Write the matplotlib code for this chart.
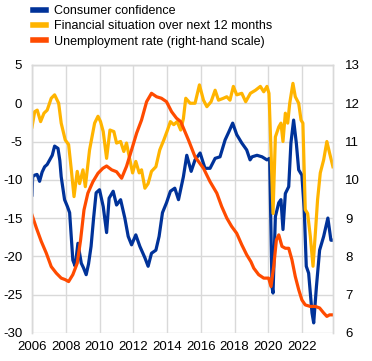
import matplotlib
matplotlib.use('Agg')
import matplotlib.pyplot as plt
from matplotlib.ticker import FuncFormatter

plt.rcParams['font.family'] = ['Liberation Sans', 'DejaVu Sans']

BLUE = '#003299'
YELLOW = '#FFB400'
ORANGE = '#FF4B00'
GRID = '#d9d9d9'

# consumer confidence (left scale)
cc_x = [2006.0, 2006.04, 2006.16, 2006.3, 2006.45, 2006.6, 2006.75, 2006.9, 2007.05, 2007.2,
        2007.34, 2007.54, 2007.65, 2007.73, 2007.93, 2008.1, 2008.23, 2008.42, 2008.56, 2008.72,
        2008.92, 2009.05, 2009.21, 2009.35, 2009.5, 2009.65, 2009.8, 2010.0, 2010.22, 2010.42,
        2010.57, 2010.81, 2011.01, 2011.25, 2011.5, 2011.7, 2011.9, 2012.15, 2012.39, 2012.69,
        2012.88, 2013.08, 2013.34, 2013.53, 2013.73, 2013.97, 2014.2, 2014.46, 2014.68, 2014.97,
        2015.17, 2015.43, 2015.66, 2015.96, 2016.25, 2016.55, 2016.85, 2017.14, 2017.44, 2017.67,
        2017.89, 2018.13, 2018.43, 2018.72, 2018.92, 2019.04, 2019.33, 2019.63, 2019.92, 2020.08,
        2020.22, 2020.28, 2020.42, 2020.62, 2020.75, 2020.87, 2021.01, 2021.21, 2021.34, 2021.5,
        2021.66, 2021.8, 2021.99, 2022.13, 2022.25, 2022.39, 2022.49, 2022.59, 2022.69, 2022.85,
        2023.04, 2023.28, 2023.53, 2023.71, 2023.83]
cc_y = [-12.0, -9.6, -9.4, -9.3, -10.2, -9.0, -8.3, -8.0, -7.4, -6.8,
        -5.6, -5.9, -7.5, -9.6, -12.6, -13.5, -14.3, -20.5, -21.3, -18.3,
        -20.9, -21.5, -22.4, -21.0, -18.7, -15.0, -11.7, -11.3, -13.5, -16.9,
        -12.4, -11.5, -13.3, -12.6, -15.0, -17.4, -18.5, -17.2, -18.7, -20.2,
        -21.3, -19.6, -19.2, -17.4, -14.3, -13.0, -11.5, -11.1, -12.6, -9.6,
        -6.8, -8.9, -7.4, -6.5, -8.5, -8.5, -7.2, -7.0, -4.8, -3.7,
        -2.6, -4.1, -5.2, -6.1, -7.4, -7.0, -6.8, -7.0, -7.4, -7.2,
        -24.0, -24.8, -14.8, -13.0, -12.6, -16.5, -11.8, -10.9, -5.2, -2.2,
        -5.2, -8.7, -9.4, -13.9, -21.3, -22.2, -24.8, -27.4, -28.7, -24.0,
        -19.2, -17.4, -15.0, -17.9, -17.9]

# financial situation over next 12 months (left scale)
fs_x = [2006.0, 2006.16, 2006.31, 2006.51, 2006.71, 2006.9, 2007.14, 2007.34, 2007.58, 2007.73,
        2007.97, 2008.17, 2008.33, 2008.49, 2008.68, 2008.82, 2009.02, 2009.16, 2009.41, 2009.71,
        2009.91, 2010.06, 2010.22, 2010.42, 2010.62, 2010.85, 2011.01, 2011.25, 2011.44, 2011.6,
        2011.8, 2011.96, 2012.15, 2012.35, 2012.49, 2012.69, 2012.88, 2013.08, 2013.34, 2013.57,
        2013.81, 2014.03, 2014.2, 2014.4, 2014.6, 2014.81, 2014.97, 2015.11, 2015.37, 2015.66,
        2015.92, 2016.16, 2016.36, 2016.61, 2016.85, 2017.05, 2017.34, 2017.54, 2017.73, 2017.93,
        2018.13, 2018.43, 2018.66, 2018.94, 2019.24, 2019.53, 2019.73, 2019.92, 2020.04, 2020.16,
        2020.28, 2020.42, 2020.62, 2020.75, 2020.87, 2021.01, 2021.15, 2021.27, 2021.46, 2021.6,
        2021.8, 2021.94, 2022.05, 2022.19, 2022.33, 2022.49, 2022.65, 2022.79, 2022.92, 2023.08,
        2023.28, 2023.47, 2023.63, 2023.83]
fs_y = [-3.1, -1.1, -0.9, -2.4, -1.3, -0.9, 0.65, 1.1, 0.0, -2.6,
        -4.8, -5.4, -8.7, -12.2, -8.9, -10.5, -8.7, -10.9, -6.1, -2.6,
        -1.7, -2.4, -3.7, -7.2, -3.5, -3.7, -5.2, -5.0, -6.3, -5.2,
        -7.4, -9.1, -7.6, -9.1, -8.7, -11.1, -10.5, -8.9, -8.3, -6.1,
        -4.8, -3.5, -2.4, -2.8, -2.4, -3.5, -2.0, 0.65, 0.0, 0.0,
        2.4, 0.4, -0.45, 0.2, 1.7, 0.4, 0.65, 0.85, 0.4, 2.2,
        1.1, 1.3, 0.2, 1.3, 1.7, 2.2, 1.5, 2.2, 1.3, -6.1,
        -14.4, -4.4, -3.1, -2.6, -5.0, -1.3, -2.6, 0.0, 2.6, 0.85,
        0.0, -2.2, -2.6, -13.9, -14.4, -17.4, -21.3, -16.9, -12.6, -9.1,
        -7.4, -5.0, -6.5, -8.3]

# unemployment rate (right scale)
ur_x = [2006.0, 2006.26, 2006.55, 2006.85, 2007.14, 2007.44, 2007.73, 2007.97, 2008.17, 2008.42,
        2008.68, 2008.88, 2009.08, 2009.31, 2009.61, 2009.91, 2010.2, 2010.42, 2010.72, 2011.01,
        2011.31, 2011.6, 2011.9, 2012.2, 2012.49, 2012.79, 2013.08, 2013.38, 2013.67, 2013.97,
        2014.27, 2014.56, 2014.81, 2015.27, 2015.66, 2016.16, 2016.55, 2016.95, 2017.24, 2017.54,
        2017.83, 2018.13, 2018.43, 2018.72, 2018.97, 2019.14, 2019.43, 2019.73, 2020.02, 2020.16,
        2020.32, 2020.48, 2020.62, 2020.81, 2021.01, 2021.21, 2021.4, 2021.6, 2021.8, 2021.99,
        2022.19, 2022.49, 2022.79, 2023.04, 2023.28, 2023.47, 2023.63, 2023.83]
ur_y = [9.08, 8.74, 8.39, 8.08, 7.73, 7.56, 7.43, 7.39, 7.34, 7.52,
        7.82, 8.43, 9.21, 9.65, 9.95, 10.17, 10.3, 10.36, 10.26, 10.21,
        10.04, 10.35, 10.78, 11.22, 11.56, 12.04, 12.26, 12.17, 12.13, 12.04,
        11.78, 11.61, 11.52, 11.04, 10.6, 10.3, 9.95, 9.65, 9.3, 9.0,
        8.78, 8.6, 8.3, 8.04, 7.86, 7.69, 7.52, 7.43, 7.43, 7.21,
        7.73, 8.43, 8.56, 8.26, 8.21, 8.21, 7.91, 7.47, 7.13, 6.86,
        6.73, 6.69, 6.69, 6.65, 6.52, 6.43, 6.47, 6.47]

x_ticks = [2006, 2008, 2010, 2012, 2014, 2016, 2018, 2020, 2022]

fig = plt.figure(figsize=(3.72, 3.61), dpi=100)
ax = fig.add_axes([0.086, 0.078, 0.809, 0.742])
ax2 = ax.twinx()

ax.plot(cc_x, cc_y, color=BLUE, linewidth=2.3, label='Consumer confidence', zorder=2)
ax.plot(fs_x, fs_y, color=YELLOW, linewidth=2.3, label='Financial situation over next 12 months', zorder=3)
ax2.plot(ur_x, ur_y, color=ORANGE, linewidth=2.3, label='Unemployment rate (right-hand scale)')

ax.set_xlim(2006, 2023.83)
ax.set_ylim(-30, 5)
ax2.set_ylim(6, 13)
ax.set_xticks(x_ticks)
ax.set_yticks(range(-30, 6, 5))
ax2.set_yticks(range(6, 14))

fmt = FuncFormatter(lambda v, p: f'{int(v)}')
ax.yaxis.set_major_formatter(fmt)

ax.grid(True, color=GRID, linewidth=1)
for a in (ax, ax2):
    a.spines['bottom'].set_visible(False)
    for s in ('top', 'left', 'right'):
        a.spines[s].set_color(GRID)
        a.spines[s].set_linewidth(1)
    a.tick_params(length=0, labelsize=9.5, colors='black')
ax.tick_params(axis='y', pad=7)
ax2.tick_params(axis='y', pad=9)
ax.tick_params(axis='x', pad=6)

h1, l1 = ax.get_legend_handles_labels()
h2, l2 = ax2.get_legend_handles_labels()
leg = fig.legend(h1 + h2, l1 + l2, loc='upper left', bbox_to_anchor=(0.075, 1.0),
                 frameon=False, fontsize=9, handlelength=1.05, handletextpad=0.65,
                 labelspacing=0.27, borderaxespad=0)
for line in leg.get_lines():
    line.set_linewidth(4)

fig.savefig('out.png', dpi=100)
